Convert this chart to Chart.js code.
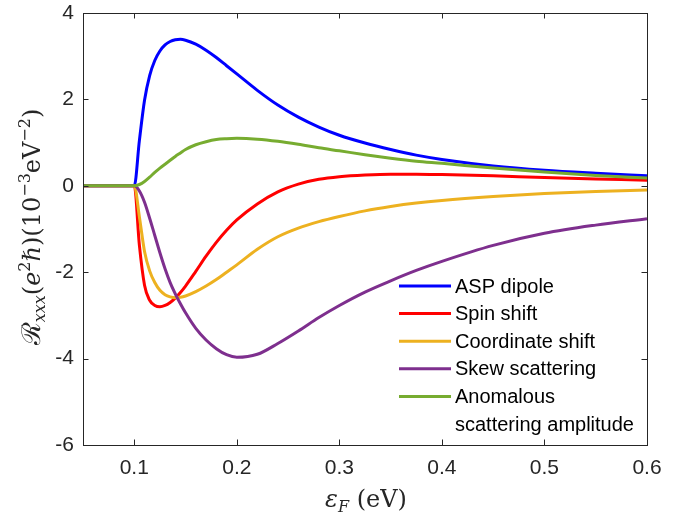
<!DOCTYPE html>
<html>
<head>
<meta charset="utf-8">
<script src="https://cdn.jsdelivr.net/npm/chart.js@4.4.0/dist/chart.umd.min.js"></script>
<style>
    html, body { margin: 0; padding: 0; background: #fff; }
    #wrap { width: 693px; height: 519px; }
</style>
</head>
<body>
<div id="wrap"><canvas id="myChart" width="693" height="519"></canvas></div>
<script>
// Fermi energy (eV)
var energy = [0.05, 0.1, 0.105, 0.11, 0.115, 0.12, 0.125, 0.13, 0.135, 0.14, 0.145, 0.15, 0.16, 0.17, 0.18,
    0.19, 0.2, 0.22, 0.24, 0.26, 0.28, 0.3, 0.325, 0.35, 0.375, 0.4, 0.45, 0.5, 0.55, 0.6];

// R_xxx contributions (10^-3 eV^-2)
var aspDipole = [0, 0, 1.05, 1.98, 2.55, 2.9, 3.12, 3.26, 3.34, 3.38, 3.39, 3.37, 3.28, 3.14, 2.97,
    2.78, 2.59, 2.21, 1.87, 1.59, 1.36, 1.17, 0.99, 0.84, 0.71, 0.61, 0.46, 0.36, 0.29, 0.23];
var spinShift = [0, 0, -1.38, -2.3, -2.65, -2.77, -2.8, -2.77, -2.7, -2.6, -2.47, -2.32, -1.98, -1.63, -1.31,
    -1.03, -0.79, -0.42, -0.14, 0.04, 0.15, 0.21, 0.25, 0.27, 0.27, 0.26, 0.23, 0.19, 0.16, 0.13];
var coordShift = [0, 0, -0.72, -1.52, -1.97, -2.24, -2.42, -2.52, -2.57, -2.59, -2.58, -2.55, -2.45, -2.32, -2.17,
    -2.0, -1.83, -1.47, -1.18, -0.98, -0.83, -0.71, -0.58, -0.48, -0.4, -0.34, -0.25, -0.18, -0.13, -0.1];
var skewScattering = [0, 0, -0.12, -0.38, -0.75, -1.15, -1.55, -1.92, -2.24, -2.5, -2.73, -2.94, -3.3, -3.57, -3.77,
    -3.91, -3.97, -3.9, -3.65, -3.36, -3.05, -2.77, -2.46, -2.2, -1.96, -1.75, -1.38, -1.1, -0.91, -0.76];
var anomalous = [0, 0, 0.03, 0.1, 0.2, 0.31, 0.41, 0.5, 0.59, 0.68, 0.76, 0.84, 0.95, 1.02, 1.07,
    1.09, 1.1, 1.08, 1.03, 0.96, 0.88, 0.81, 0.72, 0.64, 0.57, 0.52, 0.41, 0.32, 0.24, 0.18];

var seriesNames = ['ASP dipole', 'Spin shift', 'Coordinate shift', 'Skew scattering', 'Anomalous\nscattering amplitude'];
var seriesColors = ['#0000ff', '#ff0000', '#edb120', '#7e2f8e', '#77ac30'];
var xTicks = [0.1, 0.2, 0.3, 0.4, 0.5, 0.6];
var yTicks = [-6, -4, -2, 0, 2, 4];

var axisColor = '#262626';
var sansFont = '"Liberation Sans", Arial, sans-serif';
var serifFont = '"DejaVu Serif", "Liberation Serif", serif';

function toPoints(ys) {
    return energy.map(function (x, i) { return { x: x, y: ys[i] }; });
}

// draw text made of pieces (sub/superscripts, italics)
function drawRich(ctx, parts, cx, cy, rotate) {
    var total = 0;
    parts.forEach(function (p) {
        ctx.font = (p.italic ? 'italic ' : '') + p.size + 'px ' + serifFont;
        p.w = ctx.measureText(p.t).width;
        total += p.w;
    });
    ctx.save();
    ctx.translate(cx, cy);
    if (rotate) ctx.rotate(-Math.PI / 2);
    ctx.fillStyle = axisColor;
    ctx.textBaseline = 'alphabetic';
    ctx.textAlign = 'left';
    var cur = -total / 2;
    parts.forEach(function (p) {
        ctx.font = (p.italic ? 'italic ' : '') + p.size + 'px ' + serifFont;
        ctx.fillText(p.t, cur, p.dy || 0);
        cur += p.w;
    });
    ctx.restore();
}

var frame = {
    id: 'frame',
    afterDraw: function (chart) {
        var ctx = chart.ctx;
        var a = chart.chartArea;
        var xs = chart.scales.x, ys = chart.scales.y;
        ctx.save();
        ctx.strokeStyle = axisColor;
        ctx.lineWidth = 1;
        ctx.strokeRect(Math.round(a.left) + 0.5, Math.round(a.top) + 0.5,
            Math.round(a.right - a.left), Math.round(a.bottom - a.top));
        var tl = 5.5;
        ctx.beginPath();
        xTicks.forEach(function (v) {
            var px = Math.round(xs.getPixelForValue(v)) + 0.5;
            ctx.moveTo(px, a.bottom); ctx.lineTo(px, a.bottom - tl);
            ctx.moveTo(px, a.top); ctx.lineTo(px, a.top + tl);
        });
        yTicks.forEach(function (v) {
            var py = Math.round(ys.getPixelForValue(v)) + 0.5;
            ctx.moveTo(a.left, py); ctx.lineTo(a.left + tl, py);
            ctx.moveTo(a.right, py); ctx.lineTo(a.right - tl, py);
        });
        ctx.stroke();

        // legend
        var rowY = 286, rowH = 27.6;
        ctx.font = '20px ' + sansFont;
        ctx.textBaseline = 'middle';
        ctx.textAlign = 'left';
        chart.data.datasets.forEach(function (ds) {
            ctx.strokeStyle = ds.borderColor;
            ctx.lineWidth = 3;
            ctx.beginPath();
            ctx.moveTo(399, rowY); ctx.lineTo(451, rowY);
            ctx.stroke();
            ctx.fillStyle = '#000';
            ds.label.split('\n').forEach(function (line) {
                ctx.fillText(line, 455, rowY + 1);
                rowY += rowH;
            });
        });
        ctx.restore();

        // axis titles
        drawRich(ctx, [
            { t: '\u211B', size: 26 },
            { t: 'xxx', size: 16, italic: true, dy: 5 },
            { t: '(', size: 24 },
            { t: 'e', size: 24, italic: true },
            { t: '2', size: 16, dy: -10 },
            { t: '\u210F', size: 24, italic: true },
            { t: ')(10', size: 24 },
            { t: '\u22123', size: 16, dy: -10 },
            { t: 'eV', size: 24 },
            { t: '\u22122', size: 16, dy: -10 },
            { t: ')', size: 24 }
        ], 40, 227, true);
        drawRich(ctx, [
            { t: '\u03B5', size: 24, italic: true },
            { t: 'F', size: 16, italic: true, dy: 5 },
            { t: ' (eV)', size: 24 }
        ], 366, 507, false);
    }
};

var datasets = [aspDipole, spinShift, coordShift, skewScattering, anomalous].map(function (ys, i) {
    return {
        label: seriesNames[i],
        data: toPoints(ys),
        borderColor: seriesColors[i],
        backgroundColor: seriesColors[i],
        borderWidth: 3,
        pointRadius: 0,
        fill: false,
        cubicInterpolationMode: 'monotone',
        order: 5 - i
    };
});

var ctx = document.getElementById('myChart').getContext('2d');
var myChart = new Chart(ctx, {
    type: 'line',
    data: { datasets: datasets },
    options: {
        responsive: false,
        animation: false,
        layout: { padding: { top: 13, right: 46, left: 0, bottom: 0 } },
        plugins: { legend: { display: false }, tooltip: { enabled: false } },
        scales: {
            x: {
                type: 'linear',
                min: 0.05,
                max: 0.6,
                grid: { display: false, drawTicks: false },
                border: { display: false },
                afterBuildTicks: function (scale) {
                    scale.ticks = xTicks.map(function (v) { return { value: v }; });
                },
                afterFit: function (scale) {
                    scale.height = 74;
                    scale.paddingLeft = 0;
                    scale.paddingRight = 0;
                },
                ticks: {
                    padding: 11,
                    color: axisColor,
                    maxRotation: 0,
                    font: { family: sansFont, size: 21 },
                    callback: function (v) { return v.toFixed(1); }
                }
            },
            y: {
                type: 'linear',
                min: -6,
                max: 4,
                grid: { display: false, drawTicks: false },
                border: { display: false },
                afterBuildTicks: function (scale) {
                    scale.ticks = yTicks.map(function (v) { return { value: v }; });
                },
                afterFit: function (scale) {
                    scale.width = 83;
                    scale.paddingTop = 0;
                    scale.paddingBottom = 0;
                },
                ticks: {
                    padding: 9,
                    color: axisColor,
                    font: { family: sansFont, size: 21 },
                    callback: function (v) { return String(v); }
                }
            }
        }
    },
    plugins: [frame]
});
</script>
</body>
</html>
